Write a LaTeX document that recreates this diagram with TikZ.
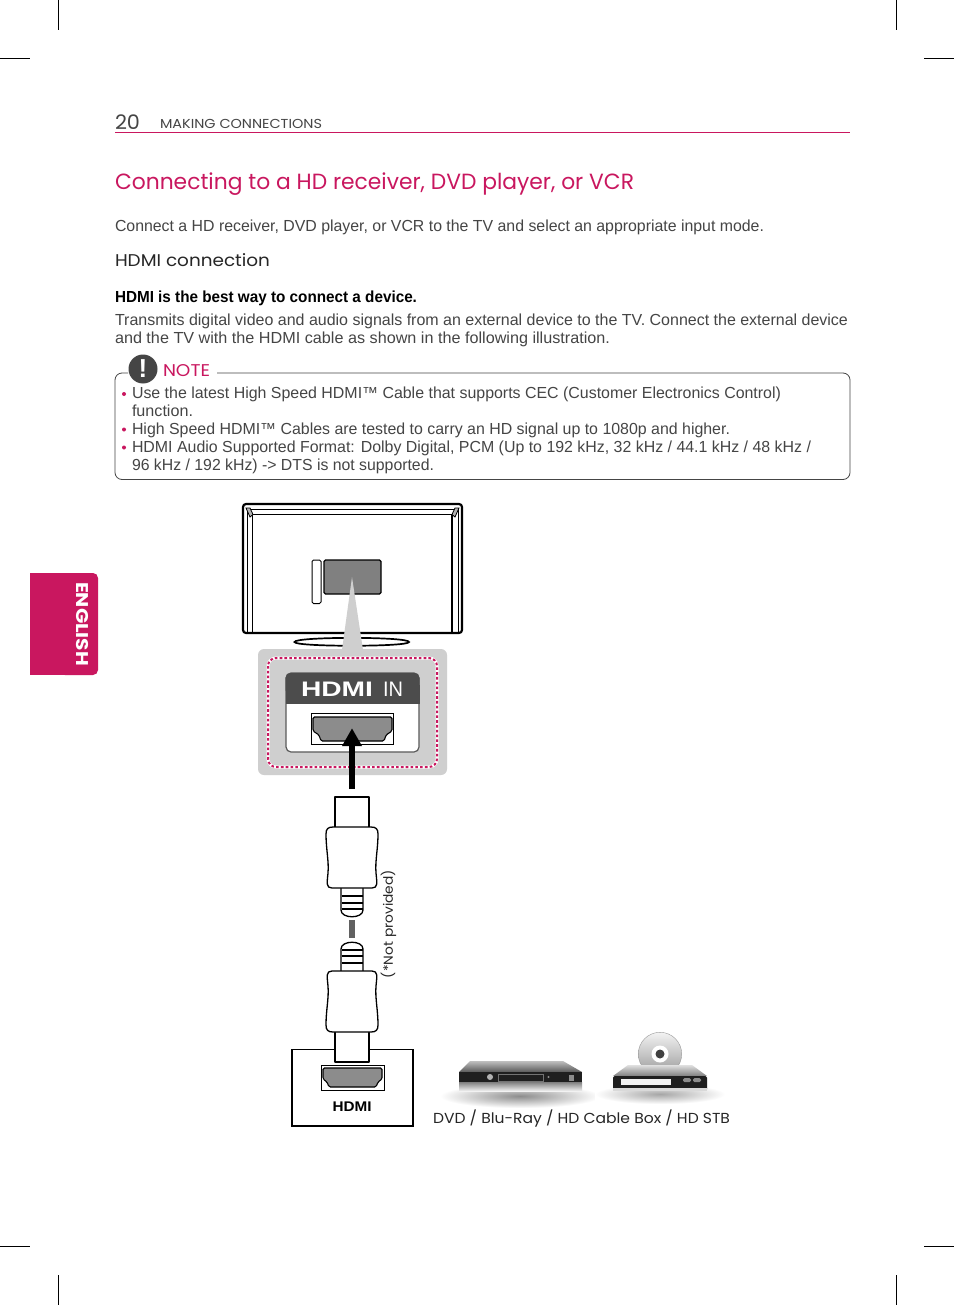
\documentclass[tikz,border=0pt]{standalone}
\usepackage{fontspec}
\usepackage{graphicx}
\setmainfont{Liberation Sans}
\newfontfamily\headfont{Poppins}
\usetikzlibrary{calc}
\definecolor{lgmag}{HTML}{C9175F}
\definecolor{bodytx}{HTML}{454545}
\newcommand{\fw}[2]{\resizebox{#1pt}{\height}{#2}}
\newcommand{\fsz}[1]{\fontsize{#1pt}{#1pt}\selectfont}
\tikzset{
  tx/.style={anchor=base west,inner sep=0pt,outer sep=0pt,text=bodytx,font=\fsz{16}},
  crop/.style={line width=0.8pt,black},
  heavy/.style={draw=black,line width=2.2pt,line join=round},
  plugline/.style={draw=black,line width=1.3pt,fill=white,line join=round},
  bar/.style={draw=black,line width=2.2pt},
  bull/.style={circle,fill=lgmag,minimum size=4pt,inner sep=0pt},
  port/.style={fill=#1,draw=black,line width=1.1pt,rounded corners=1.5pt},
  plug/.pic={
    \draw[plugline] (-17,0) -- (17,0) -- (17,32) -- (-17,32) -- cycle;
    \draw[plugline] (-11,89) -- (11,89) -- (11,113) .. controls (11,122) and (-11,122) .. (-11,113) -- cycle;
    \foreach \yy in {99,106,112}{\draw[bar] (-10.5,\yy) -- (10.5,\yy);}
    \draw[plugline] (-19,30) -- (19,30) .. controls (24,30) and (26,32) .. (26,37)
      .. controls (26,52) and (23,64) .. (24,76) .. controls (25,86) and (26,91) .. (20,91)
      -- (-20,91) .. controls (-26,91) and (-25,86) .. (-24,76)
      .. controls (-23,64) and (-26,52) .. (-26,37) .. controls (-26,32) and (-24,30) .. (-19,30) -- cycle;
  }
}
\begin{document}
\begin{tikzpicture}[x=1pt,y=-1pt]
\useasboundingbox (0,0) rectangle (954,1305);
\fill[white] (0,0) rectangle (954,1305);
% crop marks
\coordinate (c1) at (58.5,0);\coordinate (c2) at (58.5,30);
\coordinate (c3) at (896.5,0);\coordinate (c4) at (896.5,30);
\coordinate (c5) at (58.5,1275);\coordinate (c6) at (58.5,1305);
\coordinate (c7) at (896.5,1275);\coordinate (c8) at (896.5,1305);
\coordinate (c9) at (0,58.5);\coordinate (c10) at (30,58.5);
\coordinate (c11) at (924,58.5);\coordinate (c12) at (954,58.5);
\coordinate (c13) at (0,1246.5);\coordinate (c14) at (30,1246.5);
\coordinate (c15) at (924,1246.5);\coordinate (c16) at (954,1246.5);
\foreach \a/\b in {c1/c2,c3/c4,c5/c6,c7/c8,c9/c10,c11/c12,c13/c14,c15/c16}{\draw[crop] (\a) -- (\b);}
% side tab
\fill[lgmag,rounded corners=5pt] (60,573) -- (98,573) -- (98,675) -- (60,675) -- cycle;
\fill[lgmag] (30,573) rectangle (70,675);
\node[rotate=-90,inner sep=0pt,text=white,font=\headfont\bfseries\fsz{17}] (english) at (82,624) {\fw{84}{ENGLISH}};
% header
\node[tx,font=\headfont\fsz{20}] (pg) at (115,130) {\fw{25}{20}};
\node[tx,font=\headfont\fsz{13}] (sect) at (160,129) {\fw{162}{MAKING CONNECTIONS}};
\coordinate (hl) at (115,132.5);\coordinate (hr) at (850,132.5);
\draw[lgmag,line width=0.9pt] (hl) -- (hr);
\node[tx,text=lgmag,font=\headfont\fsz{22}] (title) at (115,190) {\fw{519}{Connecting to a HD receiver, DVD player, or VCR}};
\node[tx] (intro) at (115,232) {\fw{649}{Connect a HD receiver, DVD player, or VCR to the TV and select an appropriate input mode.}};
\node[tx,text=black!85,font=\headfont\fsz{17}] (hconn) at (115,267) {\fw{155}{HDMI connection}};
\node[tx,text=black,font=\bfseries\fsz{16}] (best) at (115,302) {\fw{302}{HDMI is the best way to connect a device.}};
\node[tx] (p1) at (115,325) {\fw{733}{Transmits digital video and audio signals from an external device to the TV. Connect the external device}};
\node[tx] (p2) at (115,343) {\fw{495}{and the TV with the HDMI cable as shown in the following illustration.}};
% note box
\draw[draw=bodytx,line width=0.8pt,rounded corners=7pt] (128,373) -- (115,373) -- (115,479.5) -- (850,479.5) -- (850,373) -- (217,373);
\node[circle,fill=bodytx,minimum size=29pt,inner sep=0pt] (noteicon) at (143,369) {};
\node[inner sep=0pt,text=white,font=\bfseries\fsz{26}] (excl) at (143,369) {!};
\node[tx,text=lgmag,font=\headfont\fsz{17}] (note) at (163,376) {\fw{47}{NOTE}};
\node[bull] (b1) at (124,394) {};
\node[bull] (b2) at (124,429.5) {};
\node[bull] (b3) at (124,447.5) {};
\node[tx] (n1) at (132,398) {\fw{649}{Use the latest High Speed HDMI™ Cable that supports CEC (Customer Electronics Control)}};
\node[tx] (n2) at (132,416) {\fw{61}{function.}};
\node[tx] (n3) at (132,434) {\fw{598}{High Speed HDMI™ Cables are tested to carry an HD signal up to 1080p and higher.}};
\node[tx] (n4) at (132,452) {\fw{679}{HDMI Audio Supported Format: Dolby Digital, PCM (Up to 192 kHz, 32 kHz / 44.1 kHz / 48 kHz /}};
\node[tx] (n5) at (132,470) {\fw{302}{96 kHz / 192 kHz) -> DTS is not supported.}};
% TV
\draw[black,line width=1.7pt,fill=white] (294.5,642) .. controls (294.5,636.5) and (409,636.5) .. (409,642) .. controls (409,647) and (294.5,647) .. (294.5,642) -- cycle;
\draw[heavy,fill=white,rounded corners=3pt] (243,504) rectangle (462,633);
\draw[black,line width=0.8pt] (247,633) -- (247,509) -- (458,509) -- (458,633);
\draw[black,line width=1.8pt] (252.5,632) -- (252.5,514.5) -- (452,514.5) -- (452,632);
\draw[black,line width=0.8pt,fill=gray!60] (246,508) -- (250,508) -- (253,514.5) -- (250,517) -- cycle;
\draw[black,line width=0.8pt,fill=gray!60] (459,508) -- (455,508) -- (452,514.5) -- (455,517) -- cycle;
\draw[black,line width=1pt,rounded corners=1.5pt,fill=white] (312,560) rectangle (321,603.5);
\draw[black,line width=1.1pt,rounded corners=1.5pt,fill=black!50] (324,560) rectangle (381,594);
% panel and beam
\fill[black!19,rounded corners=6pt] (258,649) rectangle (447,775);
\fill[black!19] (352,577) -- (363,650) -- (342,650) -- cycle;
\draw[white,line width=3pt,rounded corners=8pt] (268,658) rectangle (437,767);
\draw[lgmag,line width=2pt,dash pattern=on 2.6pt off 2.2pt,rounded corners=8pt] (268,658) rectangle (437,767);
% HDMI IN card
\draw[draw=black!65,line width=1.2pt,fill=white,rounded corners=5pt] (286,673) rectangle (419,752);
\fill[black!70,rounded corners=5pt] (285.5,673) rectangle (419.5,695);
\fill[black!70] (285.5,685) rectangle (419.5,704);
\node[inner sep=0pt,text=white,font=\fsz{21}] (hdmiin) at (352,689.5) {\fw{72}{\bfseries HDMI}\hspace{10pt}\fw{20}{IN}};
\draw[black,line width=0.7pt,fill=white] (311,713.5) rectangle (393,744.5);
\draw[port=black!45] (313,717) -- (392,717) -- (392,731) -- (386,735) -- (384,741) -- (321,741) -- (319,735) -- (313,731) -- cycle;
% box and plugs
\draw[black,line width=1.2pt] (292,1049.5) rectangle (413,1126);
\pic at (352,797) {plug};
\pic[yscale=-1] at (352,1062) {plug};
% arrow
\coordinate (arrS) at (352,789);
\coordinate (arrE) at (352,743);
\draw[black,line width=5.5pt] (arrS) -- (arrE);
\fill[black] (352,728.5) -- (362,746) -- (342,746) -- cycle;
% cable gap
\coordinate (cabS) at (352,920);
\coordinate (cabE) at (352,938);
\draw[black!62,line width=6pt] (cabS) -- (cabE);
\node[rotate=90,inner sep=0pt,text=black!85,font=\headfont\fsz{13}] (notprov) at (388.5,924) {\fw{108}{(*Not provided)}};
% HDMI output port
\draw[black,line width=0.7pt,fill=white] (321,1065) rectangle (384,1090);
\draw[port=black!45] (323,1068) -- (382,1068) -- (382,1079) -- (378,1082) -- (376,1087) -- (329,1087) -- (327,1082) -- (323,1079) -- cycle;
\node[inner sep=0pt,text=black,font=\bfseries\fsz{14}] (hdmi) at (352,1106.5) {\fw{39}{HDMI}};
% shadows
\shade[inner color=black!45,outer color=white] (440,1084) rectangle (600,1108);
\shade[inner color=black!35,outer color=white] (595,1084) rectangle (725,1104);
% device 1
\shade[top color=black!25,bottom color=black!65] (470,1061) -- (563,1061) -- (582,1072) -- (459,1072) -- cycle;
\fill[black!88] (459,1072) rectangle (582,1082);
\shade[top color=black!50,bottom color=black!5] (459,1082) rectangle (582,1091);
\fill[black!30] (490,1077) circle (3);
\draw[black!55,line width=0.6pt] (498,1074.5) rectangle (543,1081);
\fill[black!45] (548.5,1077) circle (1.2);
\fill[black!45] (569,1075) rectangle (574,1081);
% device 2
\begin{scope}
\clip (630,1025) rectangle (690,1066);
\shade[top color=black!5,bottom color=black!40,draw=black!40,line width=0.4pt] (660,1054) circle (21.7);
\end{scope}
\fill[white] (660,1054) circle (8.5);
\fill[black!75] (660,1054) circle (4.5);
\shade[top color=black!12,bottom color=black!50] (628,1065) -- (692,1065) -- (707,1076) -- (613,1076) -- cycle;
\fill[black!88,rounded corners=1.5pt] (613,1076) rectangle (707,1090.5);
\fill[black!15] (613,1087.5) rectangle (707,1090.5);
\fill[black!5] (621,1079) rectangle (671,1085);
\fill[black!45,rounded corners=1.5pt] (683,1078) rectangle (691,1082);
\fill[black!45,rounded corners=1.5pt] (693,1078) rectangle (701,1082);
\node[tx,text=black!85,font=\headfont\fsz{14.5}] (devices) at (433,1123) {\fw{297}{DVD / Blu-Ray / HD Cable Box / HD STB}};
\end{tikzpicture}
\end{document}
